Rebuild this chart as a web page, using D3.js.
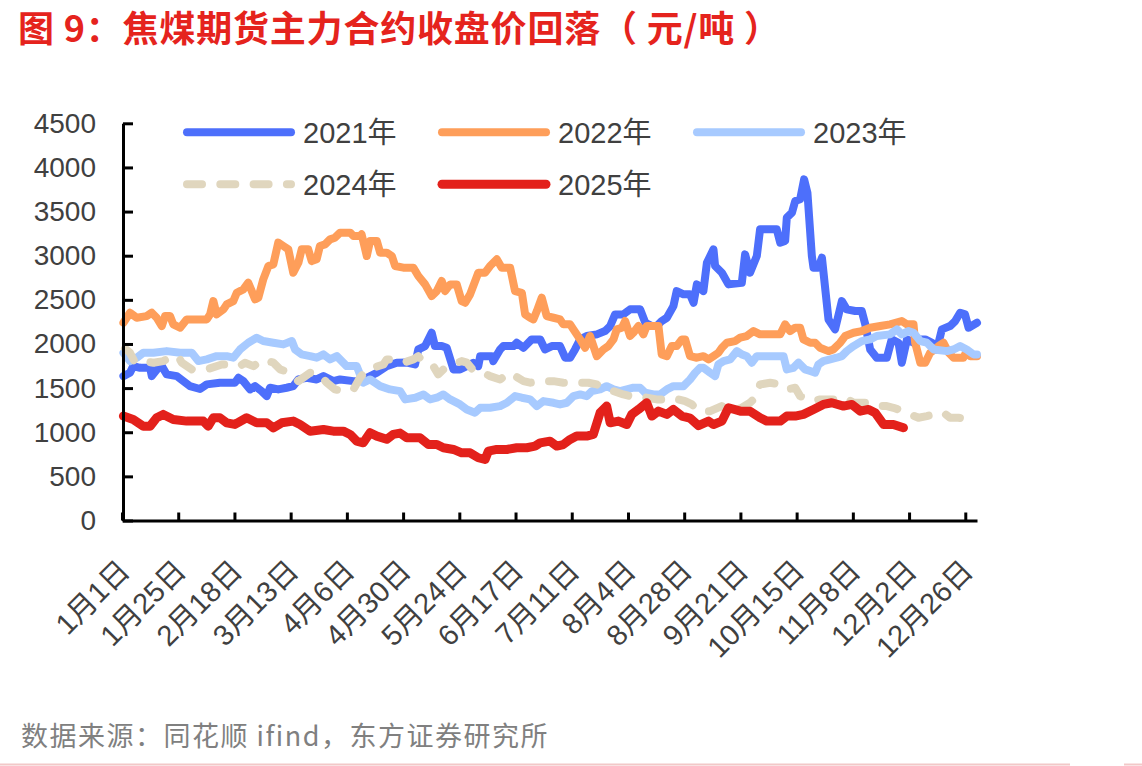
<!DOCTYPE html>
<html><head><meta charset="utf-8">
<script src="https://cdn.jsdelivr.net/npm/d3@7/dist/d3.min.js"></script>
<style>
html,body{margin:0;padding:0;background:#fff;}
svg{display:block;}
</style></head>
<body>
<svg id="chart" width="1142" height="766"></svg>
<script>
// ---- data (day of year, price 元/吨) ----
const seriesNames = ["2021年","2022年","2023年","2024年","2025年"];
const tickLabels = ["1月1日","1月25日","2月18日","3月13日","4月6日","4月30日","5月24日","6月17日","7月11日","8月4日","8月28日","9月21日","10月15日","11月8日","12月2日","12月26日"];
const tickDays = [0,24,48,72,96,120,144,168,192,216,240,264,288,312,336,360];
const yTicks = [0,500,1000,1500,2000,2500,3000,3500,4000,4500];

const s2021 = [[0.6,1636],[3.4,1674],[4.8,1749],[7.7,1730],[12,1730],[12.7,1636],[15.5,1730],[17,1749],[19.1,1655],[23.4,1636],[26.2,1579],[29,1522],[33.3,1490],[36.2,1542],[41.8,1561],[48.2,1561],[49.7,1617],[51.8,1579],[54.7,1485],[56.8,1522],[59.6,1466],[61.8,1409],[63.2,1504],[66.7,1485],[70.3,1504],[73.1,1522],[75.3,1598],[78.9,1617],[83.1,1598],[86,1636],[90.2,1579],[93.1,1598],[98.8,1579],[101.6,1579],[104.5,1617],[108.8,1674],[113,1749],[117.3,1788],[121.6,1790],[125.1,1768],[126.5,1938],[129.4,1976],[132.2,2127],[133.6,1976],[136.5,1976],[138.6,1957],[141.5,1712],[144.3,1712],[147.2,1749],[150,1788],[152.1,1749],[152.9,1862],[157.9,1862],[158.5,1806],[161.4,1938],[162.8,1976],[167.1,1976],[168.5,2014],[171.4,1957],[174.9,2052],[178.5,2052],[180.6,1938],[183.5,1976],[187,1976],[189.2,1844],[191.3,1844],[193.4,1938],[195.6,2052],[198.4,2090],[202.7,2109],[206.2,2146],[208.4,2203],[210.5,2335],[214,2335],[216.9,2392],[221.2,2392],[223.4,2241],[226.2,2203],[228.3,2203],[230.4,2260],[232.6,2297],[235.4,2429],[236.8,2599],[239.7,2562],[242.5,2562],[244,2467],[245.4,2675],[248.2,2599],[249.7,2920],[252.5,3072],[253.2,2883],[256.1,2807],[258.9,2675],[264.6,2694],[266,3015],[268.1,2807],[271,2996],[272.4,3299],[279.5,3299],[281,3148],[283.1,3166],[283.8,3431],[286,3488],[287.4,3620],[289.5,3639],[291.2,3865],[292.6,3715],[294.5,2996],[295.2,2864],[297.3,2864],[298.8,2977],[301.6,2278],[304.4,2165],[307.3,2486],[309.4,2392],[313,2373],[315.8,2373],[317.3,2222],[319.4,1938],[322.2,1844],[326.5,1844],[328.6,2052],[331.5,2014],[332.9,1788],[335.1,2052],[337.9,2014],[340.8,2052],[342.9,2052],[345.8,2014],[347.9,1938],[350,2165],[353.5,2203],[355.7,2260],[357.8,2354],[359.9,2335],[361.4,2184],[365,2241]];

const s2022 = [[0.6,2241],[3.4,2354],[6.3,2297],[10.5,2316],[12.7,2354],[14.8,2297],[17,2203],[18.4,2316],[20.5,2316],[21.9,2222],[24.8,2184],[27.6,2278],[36.2,2278],[37.6,2335],[39,2486],[40.4,2335],[43.3,2392],[44.7,2448],[47.5,2486],[49,2580],[51.8,2618],[53.9,2694],[55.4,2599],[56.8,2505],[58.2,2524],[60.3,2732],[62.5,2883],[64.6,2902],[66.7,3148],[68.9,3110],[71,3072],[73.1,2807],[75.3,2920],[76.7,3072],[79.5,3072],[81,2939],[83.1,2959],[84.5,3110],[86.7,3128],[88.8,3185],[90.9,3204],[93.1,3261],[97.4,3261],[98.8,3223],[101.6,3223],[102.3,3242],[104.5,2996],[105.9,3166],[108.8,3166],[110.2,3034],[113,3034],[115.2,2996],[116.6,2883],[120.1,2864],[124.4,2864],[126.5,2769],[129.4,2675],[132.2,2543],[134.4,2599],[136.5,2713],[137.9,2599],[140.1,2675],[142.9,2675],[145,2486],[146.5,2467],[148.6,2562],[152.1,2807],[155,2807],[157.1,2883],[160,2959],[162.1,2864],[165.7,2864],[167.8,2599],[170.7,2580],[172.1,2335],[174.2,2297],[175.6,2278],[177.1,2373],[179.2,2524],[181.3,2316],[184.2,2297],[187,2278],[188.4,2222],[191.3,2222],[192.7,2165],[195.6,2052],[197.7,1957],[199.8,2090],[202.7,1862],[205.5,1938],[207.6,1976],[209.8,2052],[211.2,2165],[213.4,2184],[214.8,2260],[216.9,2090],[218.3,2127],[220.5,2203],[222.6,2109],[224,2203],[229,2203],[230.4,1882],[232.6,1862],[234.7,1976],[236.8,1976],[239,2052],[240.4,2052],[242.5,1862],[245.4,1844],[248.2,1862],[250.4,1825],[252.5,1862],[254.6,1900],[256.1,1957],[258.2,2014],[261.7,2033],[263.9,2071],[266.7,2090],[269.6,2146],[272.4,2109],[281,2109],[283.1,2222],[285.2,2146],[287.4,2184],[289.5,2184],[290.9,2052],[293.8,2014],[295.9,2014],[298,1957],[301.6,1919],[303.7,1938],[306.6,2014],[308.7,2090],[312.3,2127],[315.8,2146],[319.4,2184],[323.7,2203],[327.9,2222],[332.9,2260],[335.1,2222],[337.9,2222],[338.6,2014],[340.8,1788],[342.9,1788],[345,1900],[348.6,1976],[350.7,2014],[352.9,1900],[355,1844],[359.2,1844],[360.6,1919],[362.1,1862],[365,1862]];

const s2023 = [[0.6,1900],[3.4,1806],[6.3,1844],[9.1,1900],[13.4,1900],[19.1,1919],[24.8,1900],[29.8,1900],[32.6,1806],[36.2,1825],[40.4,1862],[44.7,1862],[47.5,1844],[50.4,1938],[53.9,2014],[57.5,2071],[60.3,2033],[64.6,2014],[68.9,1995],[72.5,2033],[73.9,1938],[76.7,1882],[80.3,1862],[83.1,1844],[86,1882],[88.8,1825],[91.7,1862],[95.9,1749],[100.2,1749],[103,1561],[105.9,1598],[110.2,1522],[114.4,1485],[118.7,1466],[120.9,1372],[125.2,1391],[128.7,1428],[131.5,1372],[134.4,1391],[137.2,1428],[140.1,1372],[144.3,1315],[147.2,1258],[150.7,1221],[152.9,1277],[157.1,1277],[161.4,1296],[164.3,1334],[167.8,1409],[170.7,1391],[174.2,1372],[177.1,1296],[179.9,1353],[184.2,1334],[187,1315],[189.9,1334],[192.7,1409],[195.6,1428],[198.4,1409],[200.6,1466],[204.1,1485],[206.9,1522],[209.8,1485],[212.6,1466],[215.5,1485],[218.3,1504],[221.2,1504],[223.4,1447],[226.9,1428],[229.7,1428],[232.6,1485],[235.4,1522],[239.7,1522],[242.5,1598],[244.7,1674],[246.8,1730],[248.2,1730],[251.1,1674],[253.2,1636],[254.6,1768],[256.8,1806],[259.6,1825],[262.5,1919],[264.6,1882],[266.7,1862],[268.9,1788],[271,1862],[282.4,1862],[283.8,1712],[286.6,1730],[288.8,1788],[291.6,1712],[293.8,1693],[295.9,1674],[297.3,1768],[299.4,1806],[302.3,1825],[305.1,1844],[307.3,1862],[309.4,1919],[312.3,1976],[315.8,2033],[319.4,2052],[322.2,2090],[327.9,2109],[330.8,2165],[332.9,2109],[335.7,2146],[337.9,2127],[340.8,2033],[343.6,2014],[346.5,1938],[352.2,1919],[355,1938],[357.8,1976],[360.6,1938],[363.5,1882],[365,1882]];

const s2024 = [[1.3,1950],[3.4,1900],[5.6,1788],[9.1,1806],[13.4,1788],[17.6,1806],[20.5,1844],[24,1862],[25.5,1788],[29.8,1712],[36.2,1712],[42.6,1768],[46.8,1768],[50.4,1749],[52.5,1788],[56.1,1749],[60.3,1825],[64.6,1788],[67.5,1712],[71.7,1674],[75.3,1579],[80.3,1674],[84.5,1655],[87.4,1561],[90.9,1485],[94.5,1466],[98.8,1485],[101.6,1617],[104.5,1712],[107.3,1730],[111.6,1768],[113,1825],[115.8,1825],[120.1,1788],[124.4,1825],[126.5,1862],[128.7,1788],[132.9,1749],[135,1655],[137.2,1712],[141.5,1768],[145,1806],[147.2,1788],[150.2,1693],[154.3,1674],[157.1,1636],[161.4,1598],[163.5,1636],[165.7,1674],[167.8,1636],[171.4,1579],[174.2,1561],[178.5,1579],[184.2,1579],[188.4,1561],[199.1,1561],[202.7,1542],[205.5,1504],[209.8,1466],[214,1428],[216.9,1409],[221.2,1409],[224,1391],[228.3,1372],[231.1,1372],[234.7,1391],[237.5,1372],[240.4,1353],[243.3,1315],[245.4,1258],[246.8,1239],[251.1,1239],[256,1296],[260.2,1239],[264.6,1277],[268.1,1334],[271,1409],[272.4,1542],[276.7,1561],[281,1542],[283.8,1485],[287.4,1504],[289.5,1409],[293,1372],[295.2,1353],[298,1372],[305.1,1372],[308.7,1391],[312.3,1334],[318,1334],[322.2,1296],[326.5,1296],[329.3,1277],[333.6,1239],[336.5,1202],[340,1164],[343.6,1183],[346.5,1202],[350.7,1221],[353.5,1164],[357.1,1164],[362.1,1145],[365,1183]];

const s2025 = [[0.6,1183],[4.8,1145],[9.1,1069],[12,1069],[14.8,1164],[17.6,1202],[21.9,1145],[27.6,1126],[34.7,1126],[36.8,1069],[39,1164],[41.8,1164],[44.7,1107],[48.2,1088],[53.2,1164],[57.5,1107],[61.8,1107],[64.6,1050],[68.2,1107],[73.1,1126],[76,1088],[80.3,1012],[86,1031],[90.2,1012],[94.5,1012],[97.4,975],[100.2,899],[103,880],[105.9,994],[108.8,956],[113,920],[115.8,975],[118.7,990],[121.6,937],[127.2,937],[130.8,861],[134.4,861],[137.2,824],[141.5,805],[145,767],[148.6,767],[152.1,711],[155,691],[156.4,786],[160,805],[164.3,805],[168.5,824],[172.8,824],[176.3,843],[178.5,880],[182.7,899],[185.6,843],[188.4,861],[191.3,918],[194.1,956],[198.4,956],[201.2,975],[204.1,1221],[206.9,1296],[208.4,1107],[211.9,1126],[215.5,1088],[217.6,1202],[220.5,1258],[224,1334],[226.2,1183],[229,1239],[232.6,1202],[235.4,1258],[239,1183],[242.5,1160],[246.1,1075],[250.4,1126],[252.5,1088],[256.1,1126],[258.9,1277],[264,1239],[268.1,1239],[272.4,1164],[275.3,1126],[281,1126],[283.8,1183],[287.4,1183],[290.9,1202],[295.2,1258],[299.4,1315],[303,1334],[308,1296],[311.6,1315],[315.2,1239],[318.7,1258],[321.5,1221],[325.1,1088],[329.3,1088],[333.6,1050]];

const seriesData = [s2021, s2022, s2023, s2024, s2025];
const colors = ["#4d6ffb","#fe9e5a","#a7caff","#e0d6be","#e3211b"];
const widths = [8,8,8,8,9];
const dashes = [null,null,null,"15,18.3",null];

// ---- layout ----
const svg = d3.select("#chart");
const x = d3.scaleLinear().domain([0,365]).range([122,977]);
const y = d3.scaleLinear().domain([0,4500]).range([520.5,123.3]);
const txt = "#404040";
const fontLat = "'Liberation Sans', Arial, 'Noto Sans CJK SC', sans-serif";

// title
svg.append("text").attr("x",18).attr("y",42)
  .attr("font-family","'Noto Sans CJK SC', sans-serif").attr("font-weight","bold")
  .attr("font-size",36).attr("letter-spacing",0.8).attr("fill","#e5231d")
  .text("图 9：焦煤期货主力合约收盘价回落（ 元/吨 ）");

// lines
const line = d3.line().x(d=>x(d[0])).y(d=>y(d[1])).curve(d3.curveLinear);
const gl = svg.append("g");
seriesData.forEach((s,i)=>{
  gl.append("path").datum(s).attr("d",line)
    .attr("fill","none").attr("stroke",colors[i]).attr("stroke-width",widths[i])
    .attr("stroke-linejoin","round").attr("stroke-linecap","round")
    .attr("stroke-dasharray",dashes[i]);
});

// axes
const yAxis = d3.axisLeft(y).tickValues(yTicks).tickSizeInner(-10).tickSizeOuter(0).tickFormat(d3.format("d"));
const gy = svg.append("g").attr("transform","translate(123,0)").call(yAxis);
gy.select(".domain").attr("stroke","#000").attr("stroke-width",3);
gy.selectAll(".tick line").attr("stroke","#000").attr("stroke-width",3);
gy.selectAll(".tick text").attr("x",-27).attr("font-family",fontLat).attr("font-size",28).attr("fill",txt);

const xAxis = d3.axisBottom(x).tickValues(tickDays).tickSizeInner(-8).tickSizeOuter(0)
  .tickFormat((d,i)=>tickLabels[i]);
const gx = svg.append("g").attr("transform","translate(0,520.5)").call(xAxis);
gx.select(".domain").attr("stroke","#000").attr("stroke-width",3);
gx.selectAll(".tick line").attr("stroke","#000").attr("stroke-width",3);
gx.selectAll(".tick text").attr("y",0).attr("dy",0)
  .attr("transform","translate(9,52) rotate(-45)")
  .attr("text-anchor","end").attr("font-family",fontLat).attr("font-size",29).attr("fill",txt);

// legend
const legPos = [[183,132.3],[438,132.3],[693,132.3],[183,184.3],[438,184.3]];
const lg = svg.append("g");
seriesNames.forEach((n,i)=>{
  const [lx,ly]=legPos[i];
  lg.append("line").attr("x1",lx+4).attr("x2",lx+108).attr("y1",ly).attr("y2",ly)
    .attr("stroke",colors[i]).attr("stroke-width",widths[i]).attr("stroke-linecap","round")
    .attr("stroke-dasharray",dashes[i]);
  lg.append("text").attr("x",lx+120).attr("y",ly+11).attr("font-family",fontLat)
    .attr("font-size",29).attr("fill",txt).text(n);
});

// footer
svg.append("text").attr("x",21).attr("y",746)
  .attr("font-family","'Noto Sans CJK SC', sans-serif").attr("font-size",27).attr("letter-spacing",1.5)
  .attr("fill","#808080")
  .text("数据来源：同花顺 ifind，东方证券研究所");
svg.append("line").attr("x1",0).attr("x2",1070).attr("y1",764.5).attr("y2",764.5)
  .attr("stroke","#f2c8c8").attr("stroke-width",2);
svg.append("line").attr("x1",1124).attr("x2",1142).attr("y1",764.5).attr("y2",764.5)
  .attr("stroke","#f2c8c8").attr("stroke-width",2);
</script>
</body></html>
